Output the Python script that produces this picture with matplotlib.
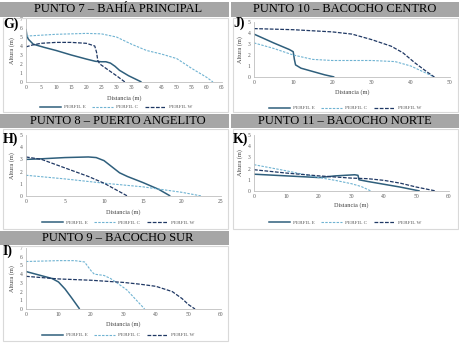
import matplotlib
matplotlib.use("Agg")
import matplotlib.pyplot as plt
from matplotlib.patches import Rectangle
from matplotlib.lines import Line2D

W_PX, H_PX = 460, 343

# ---- data ----
# PUNTO 7 - BAHIA PRINCIPAL (G)
g_e_x = [0, 0.3, 0.8, 2.4, 6, 10, 15, 20, 23, 25, 26.5, 28, 29.5, 31, 34, 38.3]
g_e_y = [5.9, 5.1, 4.75, 4.2, 3.85, 3.5, 3.0, 2.55, 2.3, 2.25, 2.25, 2.1, 1.75, 1.3, 0.7, 0]
g_c_x = [0, 5, 10, 20, 25, 30, 35, 40, 45, 50, 55, 60, 62]
g_c_y = [5.1, 5.2, 5.3, 5.4, 5.35, 5.0, 4.2, 3.5, 3.1, 2.6, 1.5, 0.5, 0]
g_w_x = [0, 2, 5, 10, 15, 20, 22.8, 23.4, 23.8, 24.5, 27, 30, 32.8]
g_w_y = [3.9, 4.1, 4.3, 4.4, 4.4, 4.3, 4.0, 3.3, 2.4, 2.0, 1.4, 0.7, 0]

# PUNTO 10 - BACOCHO CENTRO (J)
j_e_x = [0, 5, 9, 10, 10.3, 10.6, 12, 15, 18, 20.5]
j_e_y = [3.9, 3.1, 2.5, 2.3, 1.6, 1.1, 0.8, 0.5, 0.2, 0]
j_c_x = [0, 5, 10, 15, 20, 30, 36, 40, 43, 46]
j_c_y = [3.1, 2.6, 2.0, 1.6, 1.5, 1.5, 1.4, 1.0, 0.5, 0]
j_w_x = [0, 10, 20, 25, 30, 35, 38, 41, 44, 46]
j_w_y = [4.4, 4.3, 4.1, 3.9, 3.4, 2.8, 2.2, 1.3, 0.5, 0]

# PUNTO 8 - PUERTO ANGELITO (H)
h_e_x = [0, 2, 5, 8, 9, 10, 11, 12, 13, 15, 17, 18.5]
h_e_y = [3.0, 3.05, 3.15, 3.2, 3.15, 2.9, 2.4, 1.9, 1.6, 1.1, 0.55, 0]
h_c_x = [0, 5, 10, 15, 20, 22.5]
h_c_y = [1.7, 1.4, 1.05, 0.75, 0.3, 0]
h_w_x = [0, 2, 5, 8, 10, 11, 13]
h_w_y = [3.2, 3.0, 2.3, 1.6, 1.05, 0.7, 0]

# PUNTO 11 - BACOCHO NORTE (K)
k_e_x = [0, 10, 20, 25, 31, 32, 32.3, 35, 40, 45, 51]
k_e_y = [1.5, 1.35, 1.2, 1.35, 1.45, 1.4, 1.0, 0.85, 0.6, 0.35, 0]
k_c_x = [0, 10, 20, 25, 30, 33, 36]
k_c_y = [2.35, 1.8, 1.2, 0.95, 0.65, 0.4, 0]
k_w_x = [0, 10, 20, 25, 30, 35, 40, 45, 50, 56]
k_w_y = [1.9, 1.6, 1.35, 1.25, 1.15, 1.1, 0.95, 0.7, 0.35, 0]

# PUNTO 9 - BACOCHO SUR (I)
i_e_x = [0, 3, 6, 8, 10, 12, 14, 16.5]
i_e_y = [4.3, 4.0, 3.7, 3.5, 3.1, 2.3, 1.3, 0]
i_c_x = [0, 5, 10, 15, 18, 20, 21, 24, 26, 28, 31, 33, 35, 36.5]
i_c_y = [5.45, 5.5, 5.55, 5.55, 5.4, 4.4, 4.0, 3.85, 3.5, 3.0, 2.2, 1.4, 0.6, 0]
i_w_x = [0, 5, 10, 20, 30, 35, 40, 45, 48, 50, 52]
i_w_y = [3.75, 3.6, 3.45, 3.3, 3.05, 2.85, 2.6, 2.0, 1.2, 0.5, 0]

titles = ["PUNTO 7 \u2013 BAH\u00cdA PRINCIPAL", "PUNTO 10 \u2013 BACOCHO CENTRO",
          "PUNTO 8 \u2013 PUERTO ANGELITO", "PUNTO 11 \u2013 BACOCHO NORTE",
          "PUNTO 9 \u2013 BACOCHO SUR"]
letters = ["G)", "J)", "H)", "K)", "I)"]
labels = ["PERFIL E", "PERFIL C", "PERFIL W"]

col_e = "#2f5f7c"
col_c = "#6fb3d2"
col_w = "#1f3864"
title_gray = "#a6a6a6"
border = "#d9d9d9"

plt.rcParams["font.family"] = ["Liberation Serif", "DejaVu Serif"]

fig = plt.figure(figsize=(W_PX / 100, H_PX / 100), dpi=100)


def fx(px):
    return px / W_PX


def fy(py):
    return 1 - py / H_PX


def box(x0, x1, y0, y1, **kw):
    fig.patches.append(Rectangle((fx(x0), fy(y1)), fx(x1) - fx(x0), fy(y0) - fy(y1),
                                 transform=fig.transFigure, **kw))


# title bars
box(0, 229.5, 2, 17, color=title_gray, lw=0)
box(231, 460, 2, 17, color=title_gray, lw=0)
box(0, 229.5, 114, 128, color=title_gray, lw=0)
box(231, 460, 114, 128, color=title_gray, lw=0)
box(0, 229.5, 231, 245, color=title_gray, lw=0)

# chart frames
for (x0, x1, y0, y1) in [(3, 228, 18, 112), (233, 458, 18, 112),
                         (3, 228, 129, 229), (233, 458, 129, 229),
                         (3, 228, 246, 341)]:
    box(x0, x1, y0, y1, fill=False, ec=border, lw=0.8)

title_pos = [(118, 9.5), (345, 9.5), (118, 121), (345, 121), (118, 238)]
for t, (x, y) in zip(titles, title_pos):
    fig.text(fx(x), fy(y), t, ha="center", va="center", fontsize=9, color="black")

# pixel box (x0, x1, ytop, ybottom), ymax, xmax, xstep, data, letter pos, xlabel y, legend centre
panels = [
    ((26, 222, 19, 82), 7, 65, 5, (g_e_x, g_e_y, g_c_x, g_c_y, g_w_x, g_w_y), (3, 24), 98, (116, 107)),
    ((254, 450, 22, 77), 5, 50, 10, (j_e_x, j_e_y, j_c_x, j_c_y, j_w_x, j_w_y), (233, 23), 92, (345, 108)),
    ((26, 221, 135, 196), 5, 25, 5, (h_e_x, h_e_y, h_c_x, h_c_y, h_w_x, h_w_y), (3, 139), 212, (118, 223)),
    ((254, 449, 135, 191), 5, 60, 10, (k_e_x, k_e_y, k_c_x, k_c_y, k_w_x, k_w_y), (233, 139), 205, (345, 223)),
    ((26, 221, 248, 309), 7, 60, 10, (i_e_x, i_e_y, i_c_x, i_c_y, i_w_x, i_w_y), (3, 251), 324, (118, 335)),
]

for n, ((x0, x1, yt, yb), ymax, xmax, xstep, d, (lx, ly), xly, (legx, legy)) in enumerate(panels):
    ax = fig.add_axes([fx(x0), fy(yb), fx(x1) - fx(x0), fy(yt) - fy(yb)])
    ex, ey, cx, cy, wx, wy = d
    ax.plot(ex, ey, color=col_e, lw=1.1, solid_capstyle="butt")
    ax.plot(cx, cy, color=col_c, lw=0.8, dashes=(2.2, 1.2))
    ax.plot(wx, wy, color=col_w, lw=0.9, dashes=(3, 1.2))
    ax.set_xlim(0, xmax)
    ax.set_ylim(0, ymax)
    ax.set_xticks(range(0, xmax + 1, xstep))
    ax.set_yticks(range(0, ymax + 1))
    ax.tick_params(length=0, labelsize=4, colors="#595959", pad=2.5)
    for s in ["top", "right"]:
        ax.spines[s].set_visible(False)
    for s in ["left", "bottom"]:
        ax.spines[s].set_color("#bfbfbf")
        ax.spines[s].set_linewidth(0.6)
    ax.set_facecolor("none")
    ax.set_ylabel("Altura (m)", fontsize=4.5, color="#404040", labelpad=3)
    fig.text(fx((x0 + x1) / 2), fy(xly), "Distancia (m)", ha="center", va="center",
             fontsize=4.5, color="#404040")
    fig.text(fx(lx), fy(ly), letters[n], ha="left", va="center", fontsize=10,
             fontweight="bold", color="black")
    handles = [Line2D([], [], color=col_e, lw=1.1),
               Line2D([], [], color=col_c, lw=0.8, dashes=(2.2, 1.2)),
               Line2D([], [], color=col_w, lw=0.9, dashes=(3, 1.2))]
    fig.legend(handles, labels, loc="center", bbox_to_anchor=(fx(legx), fy(legy)),
               ncol=3, frameon=False, fontsize=3.8, handlelength=4.0, columnspacing=1.3,
               handletextpad=0.5, labelcolor="#595959")

fig.savefig("out.png", dpi=100)
